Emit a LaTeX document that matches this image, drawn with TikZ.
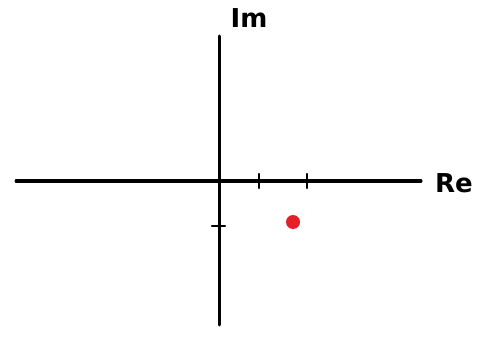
\documentclass[tikz,border=0pt]{standalone}
\usepackage{fontspec}
\setmainfont{DejaVu Sans}
\usepackage{xcolor}
\usetikzlibrary{positioning}
\definecolor{myred}{RGB}{230,30,40}

\begin{document}
\begin{tikzpicture}[x=1pt, y=-1pt,
    axis/.style={line width=3pt, black, line cap=round},
    tick/.style={line width=2.2pt, black, line cap=round},
    lbl/.style={font=\fontsize{26}{26}\selectfont\bfseries, inner sep=0pt}]
\useasboundingbox (0,0) rectangle (484,339);
\coordinate (west) at (16,181);
\coordinate (east) at (421,181);
\coordinate (south) at (219,325);
\coordinate (north) at (219,36);
\draw[axis] (west)--(east);
\draw[axis] (south)--(north);
% ticks
\foreach \x in {259,307} \draw[tick] (\x,174)--(\x,188);
\draw[tick] (212,226)--(225,226);
\node[lbl] (im) at (249,18) {Im};
\node[lbl] (re) at (454,183) {Re};
\node[circle, fill=myred, minimum size=14pt, inner sep=0pt] (z) at (293,222) {};
\end{tikzpicture}
\end{document}
